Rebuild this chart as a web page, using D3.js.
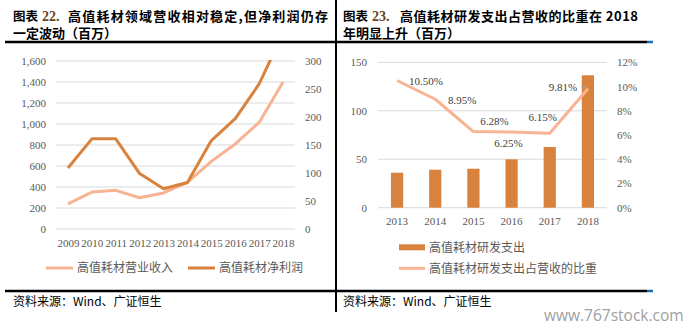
<!DOCTYPE html>
<html>
<head>
<meta charset="utf-8">
<script src="https://cdn.jsdelivr.net/npm/d3@7/dist/d3.min.js"></script>
<style>
  html, body { margin: 0; padding: 0; background: #fff; }
  svg { display: block; }
  .tick text { font-family: "Liberation Serif", serif; font-size: 11px; fill: #595959; }
  .cjk { font-family: "Noto Sans CJK SC", sans-serif; }
</style>
</head>
<body>
<svg id="chart" width="698" height="331"></svg>
<script>
// left panel: revenue vs net profit
const years1 = ["2009", "2010", "2011", "2012", "2013", "2014", "2015", "2016", "2017", "2018"];
const revenue = [240, 352, 368, 298, 343, 444, 644, 810, 1015, 1400];
const netProfit = [109, 161, 161, 99, 72, 83, 158, 197, 259, 350];
const revTicks = [0, 200, 400, 600, 800, 1000, 1200, 1400, 1600];
const profitTicks = [0, 50, 100, 150, 200, 250, 300];

// right panel: R&D spend and share of revenue
const years2 = ["2013", "2014", "2015", "2016", "2017", "2018"];
const rdSpend = [36.1, 39.2, 40.2, 49.9, 62.6, 136.6];
const rdRatio = [0.1050, 0.0895, 0.0628, 0.0625, 0.0615, 0.0981];
const spendTicks = [0, 50, 100, 150];
const ratioTicks = [0, 0.02, 0.04, 0.06, 0.08, 0.10, 0.12];

const DARK = "#d9823d", LIGHT = "#f8b393", GRID = "#d9d9d9";

const svg = d3.select("#chart");

// ---- frame: titles, rules, sources ----
function heading(x, y, str, opts = {}) {
  const t = svg.append("text").attr("x", x).attr("y", y)
    .attr("font-family", opts.serif ? "Liberation Serif, serif" : "Noto Sans CJK SC, sans-serif")
    .attr("font-size", opts.size || 13).attr("font-weight", 700).attr("fill", opts.color || "#000")
    .text(str);
  if (opts.len) t.attr("textLength", opts.len).attr("lengthAdjust", "spacing");
  return t;
}
heading(13, 20.5, "图表", { size: 12.5 });
heading(42, 21, "22.", { serif: true, color: "#6b4420", size: 14 });
heading(68, 21, "高值耗材领域营收相对稳定,但净利润仍存", { len: 260 });
heading(13, 38, "一定波动（百万）");
heading(343, 20.5, "图表", { size: 12.5 });
heading(372, 21, "23.", { serif: true, color: "#6b4420", size: 14 });
heading(400, 21, "高值耗材研发支出占营收的比重在 2018", { len: 238 });
heading(343, 38, "年明显上升（百万）");

[42, 291].forEach(y => {
  svg.append("line").attr("x1", 5).attr("x2", 647).attr("y1", y).attr("y2", y)
    .attr("stroke", "#000").attr("stroke-width", 2.5);
  svg.append("line").attr("x1", 647).attr("x2", 653).attr("y1", y).attr("y2", y)
    .attr("stroke", "#1f6fb5").attr("stroke-width", 2.5);
});
svg.append("line").attr("x1", 336).attr("x2", 336).attr("y1", 0).attr("y2", 312)
  .attr("stroke", "#000").attr("stroke-width", 2);

[13, 343].forEach(x => {
  svg.append("text").attr("class", "cjk").attr("x", x).attr("y", 306)
    .attr("font-size", 12).attr("fill", "#000").text("资料来源：Wind、广证恒生");
});
svg.append("text").attr("x", 544).attr("y", 321).attr("font-family", "Open Sans, sans-serif")
  .attr("font-size", 15.5).attr("fill", "#a0a0a0").text("www.767stock.com");

function cleanAxis(g) {
  g.select(".domain").remove();
  return g;
}

// ---- left panel ----
const xL = d3.scalePoint().domain(years1).range([56, 295]).padding(0.5);
const yRev = d3.scaleLinear().domain([0, 1600]).range([229, 61]);
const yProfit = d3.scaleLinear().domain([0, 300]).range([229, 61]);

svg.append("g").selectAll("line").data(revTicks).join("line")
  .attr("x1", 56).attr("x2", 295)
  .attr("y1", d => yRev(d)).attr("y2", d => yRev(d))
  .attr("stroke", GRID).attr("stroke-width", 1);

svg.append("g").attr("transform", "translate(56,0)")
  .call(d3.axisLeft(yRev).tickValues(revTicks).tickFormat(d3.format(",")).tickSize(0).tickPadding(10))
  .call(cleanAxis);
svg.append("g").attr("transform", "translate(295,0)")
  .call(d3.axisRight(yProfit).tickValues(profitTicks).tickSize(0).tickPadding(10))
  .call(cleanAxis);
svg.append("g").attr("transform", "translate(0,229)")
  .call(d3.axisBottom(xL).tickSize(0).tickPadding(10))
  .call(cleanAxis);

svg.append("clipPath").attr("id", "clipL").append("rect")
  .attr("x", 40).attr("y", 60).attr("width", 280).attr("height", 200);

const lineRev = d3.line().x((d, i) => xL(years1[i])).y(d => yRev(d));
const lineProfit = d3.line().x((d, i) => xL(years1[i])).y(d => yProfit(d));

svg.append("path").datum(revenue).attr("d", lineRev).attr("fill", "none")
  .attr("stroke", LIGHT).attr("stroke-width", 3).attr("stroke-linejoin", "round")
  .attr("clip-path", "url(#clipL)");
svg.append("path").datum(netProfit).attr("d", lineProfit).attr("fill", "none")
  .attr("stroke", DARK).attr("stroke-width", 3).attr("stroke-linejoin", "round")
  .attr("clip-path", "url(#clipL)");

const legL = [
  { x: 46, color: LIGHT, label: "高值耗材营业收入" },
  { x: 188, color: DARK, label: "高值耗材净利润" }
];
legL.forEach(l => {
  svg.append("line").attr("x1", l.x).attr("x2", l.x + 27).attr("y1", 268).attr("y2", 268)
    .attr("stroke", l.color).attr("stroke-width", 3);
  svg.append("text").attr("class", "cjk").attr("x", l.x + 31).attr("y", 268).attr("dy", "0.35em")
    .attr("font-size", 12).attr("fill", "#595959").text(l.label);
});

// ---- right panel ----
const xB = d3.scaleBand().domain(years2).range([378, 607]).paddingInner(0.68).paddingOuter(0.34);
const ySpend = d3.scaleLinear().domain([0, 150]).range([207.7, 62.3]);
const yRatio = d3.scaleLinear().domain([0, 0.12]).range([207.7, 62.3]);

svg.append("g").selectAll("line").data(spendTicks).join("line")
  .attr("x1", 378).attr("x2", 607)
  .attr("y1", d => ySpend(d)).attr("y2", d => ySpend(d))
  .attr("stroke", GRID).attr("stroke-width", 1);

svg.append("g").attr("transform", "translate(378,0)")
  .call(d3.axisLeft(ySpend).tickValues(spendTicks).tickSize(0).tickPadding(11))
  .call(cleanAxis);
svg.append("g").attr("transform", "translate(607,0)")
  .call(d3.axisRight(yRatio).tickValues(ratioTicks).tickFormat(d3.format(".0%")).tickSize(0).tickPadding(10))
  .call(cleanAxis);
svg.append("g").attr("transform", "translate(0,207.7)")
  .call(d3.axisBottom(xB).tickSize(0).tickPadding(9.5))
  .call(cleanAxis);

svg.append("g").selectAll("rect").data(rdSpend).join("rect")
  .attr("x", (d, i) => xB(years2[i]))
  .attr("width", xB.bandwidth())
  .attr("y", d => ySpend(d))
  .attr("height", d => ySpend(0) - ySpend(d))
  .attr("fill", DARK);

const cx = i => xB(years2[i]) + xB.bandwidth() / 2;
const lineRatio = d3.line().x((d, i) => cx(i)).y(d => yRatio(d));
svg.append("path").datum(rdRatio).attr("d", lineRatio).attr("fill", "none")
  .attr("stroke", LIGHT).attr("stroke-width", 3).attr("stroke-linejoin", "round");

// hand-placed label nudges (dx, dy from the point)
const nudge = [[29, 1], [27, 1], [21, -10], [-3, 11], [-7, -16], [-25, -2]];
const fmtPct = d3.format(".2%");
svg.append("g").selectAll("text").data(rdRatio).join("text")
  .attr("x", (d, i) => cx(i) + nudge[i][0])
  .attr("y", (d, i) => yRatio(d) + nudge[i][1])
  .attr("dy", "0.35em").attr("text-anchor", "middle")
  .attr("font-family", "Liberation Serif, serif").attr("font-size", 11).attr("fill", "#404040")
  .text(d => fmtPct(d));
// leader from the last label to its point
svg.append("line")
  .attr("x1", cx(5) - 7).attr("x2", cx(5) - 1)
  .attr("y1", yRatio(rdRatio[5]) - 2).attr("y2", yRatio(rdRatio[5]) - 2)
  .attr("stroke", "#a6a6a6").attr("stroke-width", 1);

svg.append("rect").attr("x", 399).attr("y", 244.3).attr("width", 26).attr("height", 6).attr("fill", DARK);
svg.append("text").attr("class", "cjk").attr("x", 429).attr("y", 247.3).attr("dy", "0.35em")
  .attr("font-size", 12).attr("fill", "#595959").text("高值耗材研发支出");
svg.append("line").attr("x1", 399).attr("x2", 425).attr("y1", 268.3).attr("y2", 268.3)
  .attr("stroke", LIGHT).attr("stroke-width", 3);
svg.append("text").attr("class", "cjk").attr("x", 429).attr("y", 268.3).attr("dy", "0.35em")
  .attr("font-size", 12).attr("fill", "#595959").text("高值耗材研发支出占营收的比重");
</script>
</body>
</html>
